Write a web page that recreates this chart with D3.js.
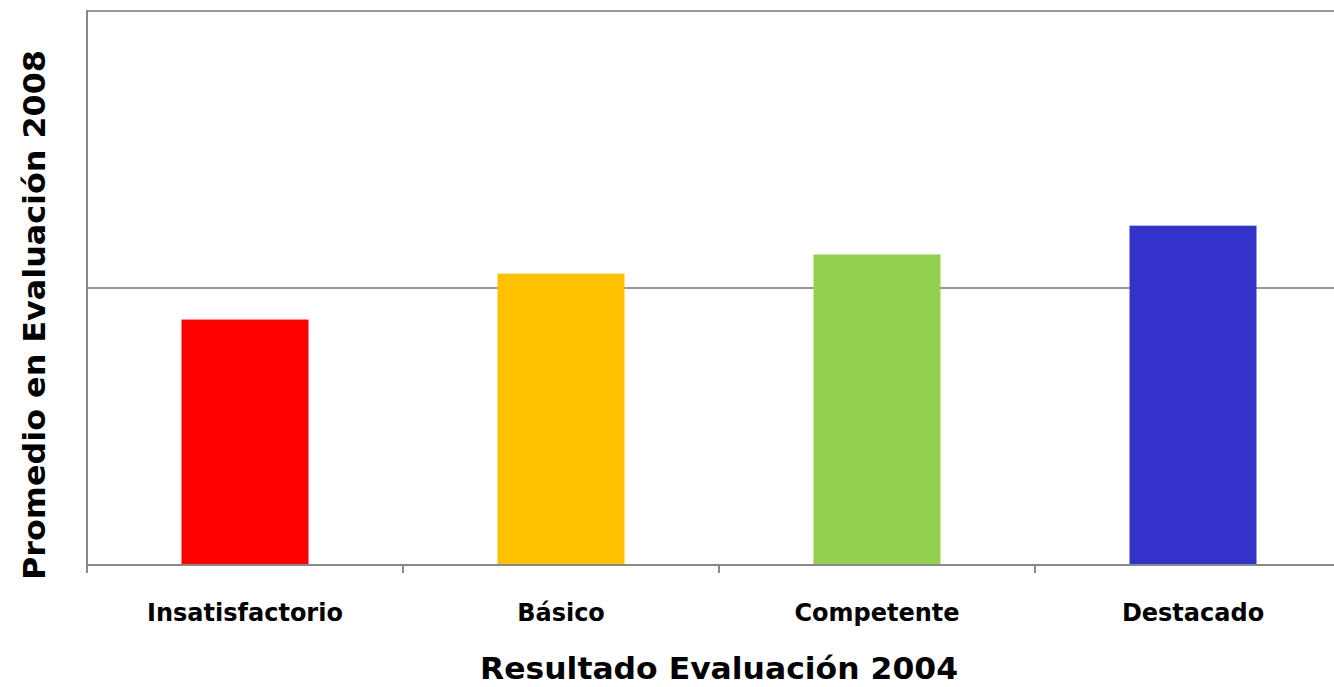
<!DOCTYPE html>
<html><head><meta charset="utf-8">
<script src="https://cdn.jsdelivr.net/npm/d3@7"></script>
<style>body{margin:0;background:#fff;} svg{display:block;}</style>
</head><body>
<svg id="c" width="1334" height="687"></svg>
<script>
const categories = ["Insatisfactorio", "Básico", "Competente", "Destacado"];
const values = [0.886, 1.052, 1.121, 1.225];
const colors = ["#FF0000", "#FFC000", "#92D050", "#3333CC"];
const yTicks = [0, 1, 2];
const xTitle = "Resultado Evaluación 2004";
const yTitle = "Promedio en Evaluación 2008";

(function () {
const svg = d3.select("#c");
const mL = 87, mT = 11, mB = 565, mR = 1351;
const FONT = "'DejaVu Sans', 'Liberation Sans', Arial, sans-serif";
const xb = d3.scaleBand().domain(categories).range([mL, mR]);
const y = d3.scaleLinear().domain([0, 2]).range([mB, mT]);

// gridlines
svg.append("g").selectAll("line").data(yTicks.filter(d => d > 0)).join("line")
  .attr("x1", mL).attr("x2", mR).attr("y1", d => y(d)).attr("y2", d => y(d))
  .attr("stroke", "#999").attr("stroke-width", 2);

// bars
svg.append("g").selectAll("rect").data(values).join("rect")
  .attr("x", (d, i) => xb(categories[i]) + xb.bandwidth() / 2 - 63.5)
  .attr("width", 127)
  .attr("y", d => y(d)).attr("height", d => y(0) - y(d))
  .attr("fill", (d, i) => colors[i]);

// y axis
svg.append("line").attr("x1", mL).attr("x2", mL).attr("y1", mT - 1).attr("y2", mB + 8)
  .attr("stroke", "#888").attr("stroke-width", 2);
// x axis
svg.append("line").attr("x1", mL).attr("x2", mR).attr("y1", mB).attr("y2", mB)
  .attr("stroke", "#888").attr("stroke-width", 2);
svg.append("g").selectAll("line").data(categories.slice(1)).join("line")
  .attr("x1", d => xb(d)).attr("x2", d => xb(d)).attr("y1", mB).attr("y2", mB + 8)
  .attr("stroke", "#888").attr("stroke-width", 2);

// category labels
svg.append("g").selectAll("text").data(categories).join("text")
  .attr("x", d => xb(d) + xb.bandwidth() / 2).attr("y", 621)
  .attr("text-anchor", "middle")
  .attr("font-family", FONT).attr("font-weight", "bold")
  .attr("font-size", 24).attr("fill", "#000").text(d => d);

svg.append("text").attr("x", 719).attr("y", 679).attr("text-anchor", "middle")
  .attr("font-family", FONT).attr("font-weight", "bold")
  .attr("font-size", 31).attr("textLength", 478).attr("lengthAdjust", "spacingAndGlyphs")
  .text(xTitle);

svg.append("text").attr("transform", "translate(45,315) rotate(-90)").attr("text-anchor", "middle")
  .attr("font-family", FONT).attr("font-weight", "bold")
  .attr("font-size", 31).attr("textLength", 530).attr("lengthAdjust", "spacingAndGlyphs")
  .text(yTitle);
})();
</script>
</body></html>
